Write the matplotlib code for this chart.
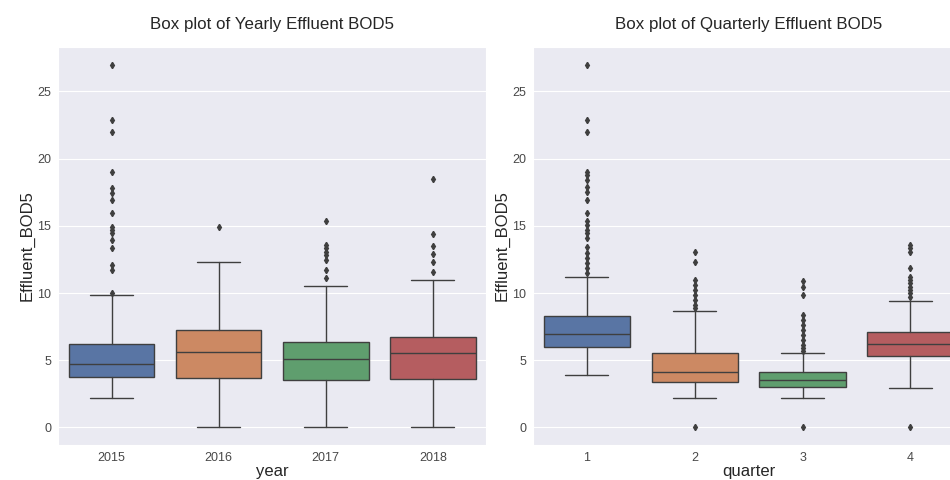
import colorsys

import matplotlib
matplotlib.use("Agg")
import matplotlib.colors as mcolors
import matplotlib.pyplot as plt
import seaborn as sns

# Box summaries of Effluent_BOD5, per year and per quarter
years = ["2015", "2016", "2017", "2018"]
year_q1 = [3.76, 3.68, 3.56, 3.64]
year_med = [4.75, 5.61, 5.12, 5.54]
year_q3 = [6.23, 7.27, 6.36, 6.70]
year_whislo = [2.2, 0.0, 0.0, 0.0]
year_whishi = [9.84, 12.34, 10.53, 10.98]
year_fliers = [
    [27.0, 22.87, 22.0, 18.97, 17.83, 17.41, 16.91, 15.95, 14.93, 14.69,
     14.44, 13.95, 13.38, 12.09, 11.72, 9.99],
    [14.93],
    [15.33, 13.58, 13.33, 13.08, 12.83, 12.46, 11.72, 11.15],
    [18.45, 14.38, 13.52, 12.93, 12.28, 11.6],
]

quarters = ["1", "2", "3", "4"]
qtr_q1 = [5.99, 3.39, 3.02, 5.34]
qtr_med = [6.95, 4.13, 3.51, 6.21]
qtr_q3 = [8.26, 5.54, 4.10, 7.10]
qtr_whislo = [3.93, 2.2, 2.17, 2.92]
qtr_whishi = [11.18, 8.63, 5.51, 9.44]
qtr_fliers = [
    [27.0, 22.87, 22.0, 19.01, 18.77, 18.40, 17.90, 17.53, 16.91, 15.97,
     15.38, 15.06, 14.69, 14.44, 14.07, 13.45, 12.96, 12.59, 12.22, 11.85,
     11.52],
    [13.05, 12.34, 10.98, 10.61, 10.24, 9.87, 9.5, 9.12, 8.88, 0.0],
    [10.86, 10.48, 9.87, 8.38, 8.01, 7.64, 7.27, 6.90, 6.53, 6.16, 5.91,
     5.66, 0.0],
    [13.58, 13.33, 13.08, 11.85, 11.23, 10.98, 10.73, 10.48, 10.24, 9.99,
     9.74, 0.0],
]

sns.set_style("darkgrid")
plt.rcParams["font.family"] = ["Liberation Sans", "DejaVu Sans"]


def desaturate(color, prop=0.75):
    h, l, s = colorsys.rgb_to_hls(*mcolors.to_rgb(color))
    return colorsys.hls_to_rgb(h, l, s * prop)


palette = [desaturate(c) for c in sns.color_palette("deep", 4)]
line_gray = "#3f3f3f"


def make_stats(labels, q1, med, q3, lo, hi, fliers):
    return [
        dict(label=lab, q1=a, med=m, q3=b, whislo=w0, whishi=w1, fliers=f)
        for lab, a, m, b, w0, w1, f in zip(labels, q1, med, q3, lo, hi, fliers)
    ]


def draw_box(ax, stats, xlabel, title):
    arts = ax.bxp(
        stats,
        positions=range(len(stats)),
        widths=0.8,
        patch_artist=True,
        showfliers=True,
        boxprops=dict(edgecolor=line_gray, linewidth=1.0),
        medianprops=dict(color=line_gray, linewidth=1.0),
        whiskerprops=dict(color=line_gray, linewidth=1.0),
        capprops=dict(color=line_gray, linewidth=1.0),
        flierprops=dict(marker="d", markersize=3.2, markerfacecolor=line_gray,
                        markeredgecolor=line_gray, linestyle="none"),
    )
    for patch, color in zip(arts["boxes"], palette):
        patch.set_facecolor(color)
    ax.set_xlim(-0.5, len(stats) - 0.5)
    ax.set_ylim(-1.3, 28.3)
    ax.set_yticks([0, 5, 10, 15, 20, 25])
    ax.xaxis.grid(False)
    ax.tick_params(axis="both", labelsize=9, colors="#484848", length=0, pad=5)
    ax.set_xlabel(xlabel, fontsize=12, labelpad=0)
    ax.set_ylabel("Effluent_BOD5", fontsize=12, labelpad=2)
    ax.set_title(title, fontsize=12.2, pad=13, color="#262626")


fig = plt.figure(figsize=(9.5, 4.8), dpi=100)
ax_year = fig.add_axes([0.061, 0.073, 0.451, 0.829])
ax_qtr = fig.add_axes([0.561, 0.073, 0.454, 0.829])

draw_box(ax_year,
         make_stats(years, year_q1, year_med, year_q3, year_whislo, year_whishi, year_fliers),
         "year", "Box plot of Yearly Effluent BOD5")
draw_box(ax_qtr,
         make_stats(quarters, qtr_q1, qtr_med, qtr_q3, qtr_whislo, qtr_whishi, qtr_fliers),
         "quarter", "Box plot of Quarterly Effluent BOD5")

fig.savefig("out.png", dpi=100)
